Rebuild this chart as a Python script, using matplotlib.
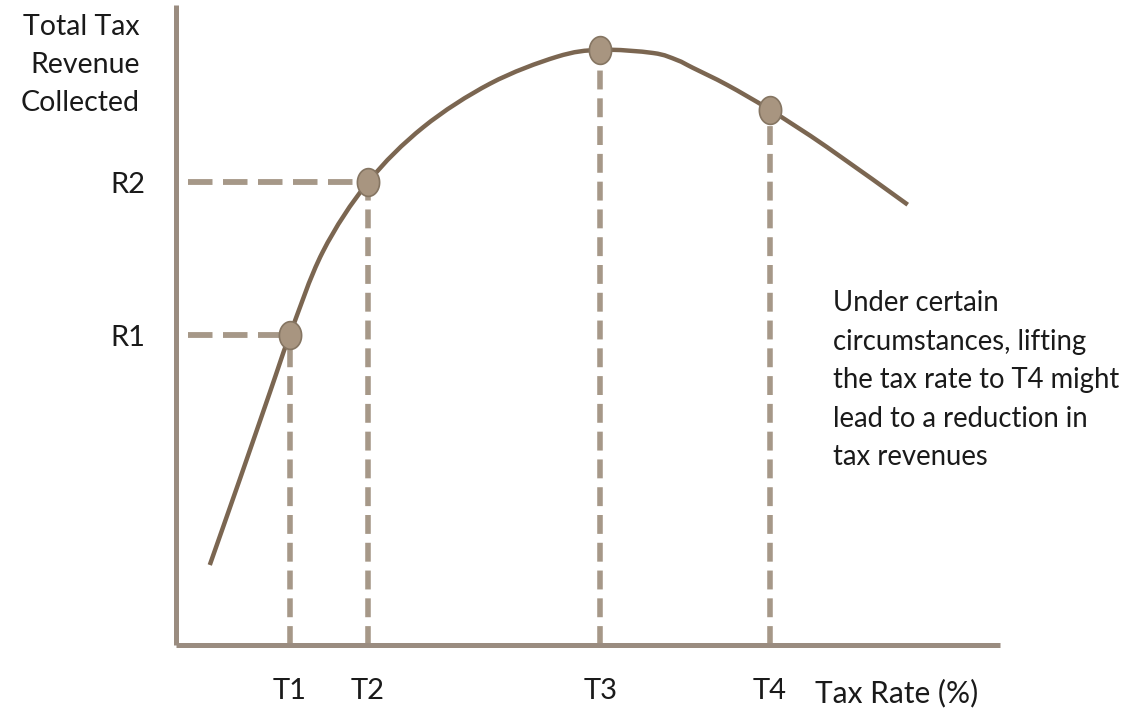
import matplotlib.pyplot as plt
import numpy as np
from matplotlib.path import Path
from matplotlib.patches import PathPatch

plt.rcParams['font.family'] = ['Lato', 'DejaVu Sans']

# Laffer curve (tax rate 0-100, revenue 0-100)
curve_x = [4.1, 7.8, 11.4, 13.8, 17.8, 23.3, 30.0, 38.1, 46.2, 51.5,
           57.9, 60.8, 62.7, 66.9, 72.1, 79.0, 88.8]
curve_y = [12.5, 26.1, 39.5, 48.4, 61.4, 72.3, 80.9, 87.7, 91.9, 93.0,
           92.5, 91.4, 90.2, 87.5, 83.6, 77.8, 68.8]

point_labels = ['T1', 'T2', 'T3', 'T4']
point_x = [13.8, 23.3, 51.5, 72.1]
point_y = [48.4, 72.3, 93.0, 83.6]

rev_labels = ['R1', 'R2']
rev_y = [48.4, 72.3]
rev_x = [13.8, 23.3]

note = ("Under certain\ncircumstances, lifting\nthe tax rate to T4 might\n"
        "lead to a reduction in\ntax revenues")

W, H = 1131, 717
fig = plt.figure(figsize=(W / 100, H / 100), dpi=100)
ax = fig.add_axes([176 / W, (H - 645) / H, (1000 - 176) / W, (645 - 5) / H])
ax.set_xlim(0, 100)
ax.set_ylim(0, 100)

axis_col = '#9a8c80'
dash_col = '#a69888'
curve_col = '#7b6651'

for s in ['top', 'right']:
    ax.spines[s].set_visible(False)
for s in ['left', 'bottom']:
    ax.spines[s].set_color(axis_col)
    ax.spines[s].set_linewidth(3.6)
    ax.spines[s].set_capstyle('butt')

# dashed guides
for x, y in zip(point_x, point_y):
    ax.plot([x, x], [0, y], color=dash_col, lw=4, ls=(0, (3.4, 1.6)),
            dash_capstyle='butt', zorder=2, clip_on=False)
for x, y in zip(rev_x, rev_y):
    ax.plot([1.5, x], [y, y], color=dash_col, lw=4.2, ls=(0, (4.2, 1.8)),
            dash_capstyle='butt', zorder=2, clip_on=False)

# smooth curve through the read points (Catmull-Rom as cubic Bezier)
pts = np.column_stack([curve_x, curve_y])
n = len(pts)
verts = [pts[0]]
codes = [Path.MOVETO]
for i in range(n - 1):
    p0 = pts[max(i - 1, 0)]
    p1 = pts[i]
    p2 = pts[i + 1]
    p3 = pts[min(i + 2, n - 1)]
    verts += [p1 + (p2 - p0) / 6, p2 - (p3 - p1) / 6, p2]
    codes += [Path.CURVE4] * 3
ax.add_patch(PathPatch(Path(verts, codes), fill=False, edgecolor=curve_col,
                       lw=3.2, capstyle='butt', zorder=3, clip_on=False))

t = np.linspace(0, 2 * np.pi, 60)
ellipse = Path(np.column_stack([0.8 * np.cos(t), np.sin(t)]), closed=True)
ax.plot(point_x, point_y, ls='none', marker=ellipse, ms=20,
        mfc='#a89580', mec='#857562', mew=1.2, zorder=4, clip_on=False)

ax.set_xticks(point_x)
ax.set_xticklabels(point_labels)
ax.set_yticks(rev_y)
ax.set_yticklabels(rev_labels)
ax.tick_params(length=0, labelsize=21, colors='#1a1a1a')
ax.tick_params(axis='x', pad=24)
ax.tick_params(axis='y', pad=22)

fig.text(140 / W, 1 - 65 / H, "Total Tax\nRevenue\nCollected", ha='right',
         va='center', fontsize=20.5, linespacing=1.58, color='#1a1a1a',
         multialignment='right')
fig.text(815 / W, 1 - 693 / H, "Tax Rate (%)", ha='left', va='center',
         fontsize=21.5, color='#1a1a1a')
fig.text(833 / W, 1 - 290 / H, note, ha='left', va='top', fontsize=19.8,
         linespacing=1.6, color='#1a1a1a')

fig.savefig('out.png', dpi=100)
